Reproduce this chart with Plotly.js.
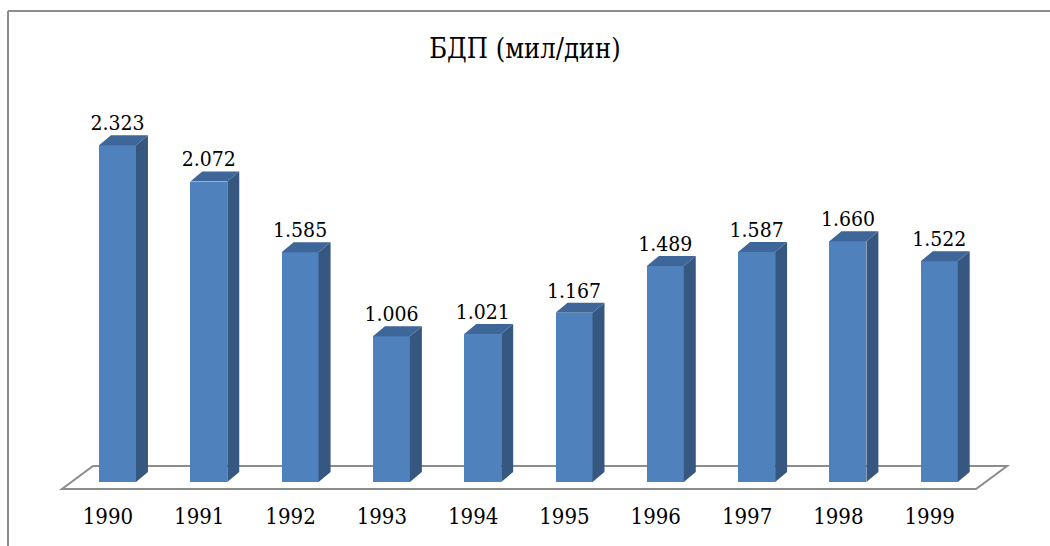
<!DOCTYPE html>
<html>
<head>
<meta charset="utf-8">
<script src="https://cdn.plot.ly/plotly-3.0.1.min.js"></script>
<style>html,body{margin:0;padding:0;background:#fff;}#chart{width:1050px;height:546px;}</style>
</head>
<body>
<div id="chart"></div>
<script>
// Data
const years = ['1990','1991','1992','1993','1994','1995','1996','1997','1998','1999'];
const gdp = [2.323, 2.072, 1.585, 1.006, 1.021, 1.167, 1.489, 1.587, 1.660, 1.522];
const labels = ['2.323','2.072','1.585','1.006','1.021','1.167','1.489','1.587','1.660','1.522'];
const titleText = 'БДП (мил/дин)';

// Styling / 3D geometry (in axis units)
const barW = 0.405, dx = 0.131, dy = 0.069, tickShift = -0.105;
const frontColor = '#4F81BD', sideColor = '#36577F', topColor = '#3E6698';
const FONT = "'DejaVu Serif Condensed', 'DejaVu Serif'";

const xs = years.map((_, i) => i);
const traces = [];

traces.push({
  type: 'bar', x: xs, y: gdp, width: barW,
  marker: {color: frontColor, line: {width: 0}},
  hoverinfo: 'skip', showlegend: false
});

xs.forEach((i, k) => {
  const v = gdp[k];
  const r = i + barW / 2, l = i - barW / 2;
  traces.push({
    type: 'scatter', mode: 'lines', fill: 'toself', fillcolor: sideColor,
    line: {width: 0, color: sideColor},
    x: [r, r + dx, r + dx, r, r], y: [0, dy, v + dy, v, 0],
    hoverinfo: 'skip', showlegend: false
  });
  traces.push({
    type: 'scatter', mode: 'lines', fill: 'toself', fillcolor: topColor,
    line: {width: 0, color: topColor},
    x: [l, l + dx, r + dx, r, l], y: [v, v + dy, v + dy, v, v],
    hoverinfo: 'skip', showlegend: false
  });
});

traces.push({
  type: 'scatter', mode: 'text', x: xs, y: gdp.map(v => v + dy),
  text: labels, textposition: 'top center',
  textfont: {family: FONT, size: 21, color: '#000'},
  hoverinfo: 'skip', showlegend: false
});

const fl = {fl: -0.608, fr: 9.403, bl: -0.268, br: 9.743, fy: -0.048, by: 0.110};
const floorPath = `M ${fl.fl} ${fl.fy} L ${fl.fr} ${fl.fy} L ${fl.br} ${fl.by} L ${fl.bl} ${fl.by} Z`;

const layout = {
  width: 1050, height: 546,
  margin: {l: 0, r: 0, t: 0, b: 46},
  paper_bgcolor: '#fff', plot_bgcolor: '#fff',
  font: {family: FONT, color: '#000'},
  title: {
    text: titleText, font: {family: FONT, size: 27, color: '#000'},
    x: 0.5, xanchor: 'center', xref: 'paper',
    y: 1 - 49 / 546, yanchor: 'middle', yref: 'container'
  },
  xaxis: {
    range: [-1.287, 10.213], tickvals: xs.map(i => i + tickShift), ticktext: years,
    showgrid: false, zeroline: false, showline: false, ticks: '',
    tickfont: {family: FONT, size: 22, color: '#000'},
    ticklabelstandoff: 1, fixedrange: true
  },
  yaxis: {
    range: [-0.124, 3.324], visible: false, showgrid: false, zeroline: false, fixedrange: true
  },
  bargap: 0,
  shapes: [
    {type: 'path', xref: 'x', yref: 'y', path: floorPath, layer: 'below',
     fillcolor: '#fff', line: {color: '#8C8C8C', width: 2}},
    {type: 'line', xref: 'paper', yref: 'paper', x0: 8 / 1050, x1: 1.01, y0: 1 - 11 / 500, y1: 1 - 11 / 500,
     line: {color: '#8C8C8C', width: 2}},
    {type: 'line', xref: 'paper', yref: 'paper', x0: 8 / 1050, x1: 8 / 1050, y0: 1 - 11 / 500, y1: -0.1,
     line: {color: '#8C8C8C', width: 2}}
  ]
};

Plotly.newPlot('chart', traces, layout, {displayModeBar: false, staticPlot: true});
</script>
</body>
</html>
